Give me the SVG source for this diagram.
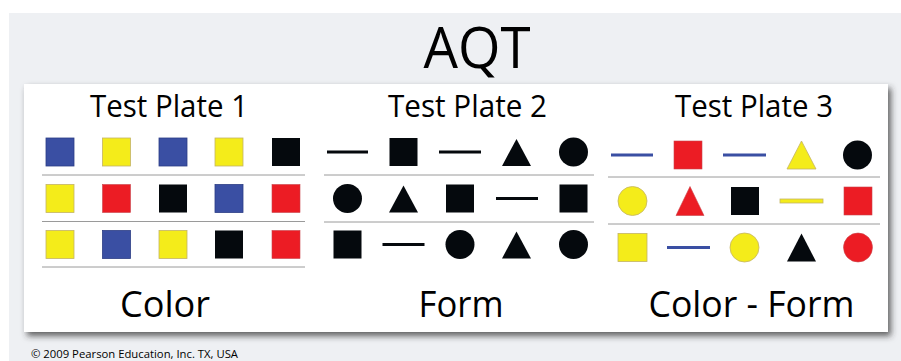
<svg xmlns="http://www.w3.org/2000/svg" width="901" height="361" viewBox="0 0 901 361">
<style>
text{font-family:"Open Sans","Liberation Sans",sans-serif;fill:#000}
.b{fill:#3a4fa3;stroke:#2c3d85;stroke-width:0.8}
.y{fill:#f4ec1a;stroke:#c4b466;stroke-width:0.8}
.r{fill:#ec1c24;stroke:#c9434a;stroke-width:0.6}
.k{fill:#05090d}
.d{stroke:#05090d;stroke-width:3}
.db{stroke:#3a4fa3;stroke-width:3}
.sep{stroke:#9a9a9a;stroke-width:1}
</style>
<defs>
<filter id="sh" x="-5%" y="-5%" width="115%" height="120%">
<feDropShadow dx="3" dy="4" stdDeviation="3" flood-color="#333" flood-opacity="0.75"/>
</filter>
</defs>
<rect x="0" y="0" width="901" height="361" fill="#ffffff"/>
<rect x="9" y="13" width="892" height="348" fill="#eef0f3"/>
<g id="title"><text x="477" y="68" font-size="56" text-anchor="middle" textLength="107" lengthAdjust="spacingAndGlyphs">AQT</text></g>
<rect id="panel" x="24" y="84" width="864" height="248" fill="#ffffff" filter="url(#sh)"/>

<g id="plate1">
<text x="90" y="117" font-size="31" textLength="158" lengthAdjust="spacingAndGlyphs">Test Plate 1</text>
<rect class="b" x="46" y="138" width="28" height="28"/>
<rect class="y" x="102.5" y="138" width="28" height="28"/>
<rect class="b" x="159" y="138" width="28" height="28"/>
<rect class="y" x="215" y="138" width="28" height="28"/>
<rect class="k" x="272" y="138" width="28" height="28"/>
<line class="sep" x1="42" y1="175" x2="305" y2="175"/>
<rect class="y" x="46" y="184.5" width="28" height="28"/>
<rect class="r" x="102.5" y="184.5" width="28" height="28"/>
<rect class="k" x="159" y="184.5" width="28" height="28"/>
<rect class="b" x="215" y="184.5" width="28" height="28"/>
<rect class="r" x="272" y="184.5" width="28" height="28"/>
<line class="sep" x1="42" y1="221.5" x2="305" y2="221.5"/>
<rect class="y" x="46" y="230.5" width="28" height="28"/>
<rect class="b" x="102.5" y="230.5" width="28" height="28"/>
<rect class="y" x="159" y="230.5" width="28" height="28"/>
<rect class="k" x="215" y="230.5" width="28" height="28"/>
<rect class="r" x="272" y="230.5" width="28" height="28"/>
<line class="sep" x1="42" y1="267" x2="305" y2="267"/>
<text x="165" y="317" font-size="37" text-anchor="middle" textLength="90" lengthAdjust="spacingAndGlyphs">Color</text>
</g>

<g id="plate2">
<text x="388" y="117" font-size="31" textLength="159" lengthAdjust="spacingAndGlyphs">Test Plate 2</text>
<line class="d" x1="327" y1="152" x2="368" y2="152"/>
<rect class="k" x="389.5" y="138" width="28" height="28"/>
<line class="d" x1="439" y1="152" x2="481" y2="152"/>
<polygon class="k" points="502,166 516.5,139 531,166"/>
<circle class="k" cx="573.5" cy="152" r="14.5"/>
<line class="sep" x1="324" y1="175" x2="594" y2="175"/>
<circle class="k" cx="347.5" cy="198.5" r="14.5"/>
<polygon class="k" points="389,212.5 403.5,185.5 418,212.5"/>
<rect class="k" x="446" y="184.5" width="28" height="28"/>
<line class="d" x1="496" y1="198.5" x2="538" y2="198.5"/>
<rect class="k" x="559.5" y="184.5" width="28" height="28"/>
<line class="sep" x1="324" y1="222" x2="594" y2="222"/>
<rect class="k" x="333.5" y="230.5" width="28" height="28"/>
<line class="d" x1="382.5" y1="244.5" x2="424.5" y2="244.5"/>
<circle class="k" cx="460" cy="244.5" r="14.5"/>
<polygon class="k" points="502,258.5 516.5,231.5 531,258.5"/>
<circle class="k" cx="573.5" cy="244.5" r="14.5"/>
<text x="461" y="317" font-size="37" text-anchor="middle" textLength="85" lengthAdjust="spacingAndGlyphs">Form</text>
</g>

<g id="plate3">
<text x="675" y="117" font-size="31" textLength="158" lengthAdjust="spacingAndGlyphs">Test Plate 3</text>
<line class="db" x1="611" y1="155" x2="653" y2="155"/>
<rect class="r" x="674" y="141" width="28" height="28"/>
<line class="db" x1="723" y1="155" x2="766" y2="155"/>
<polygon class="y" points="787,169 801.5,141 816,169"/>
<circle class="k" cx="857.5" cy="155" r="14.5"/>
<line class="sep" x1="608" y1="177" x2="880" y2="177"/>
<circle class="y" cx="632.5" cy="201" r="14.5"/>
<polygon class="r" points="676,215.5 690,186.5 704,215.5"/>
<rect class="k" x="731" y="187" width="28" height="28"/>
<rect class="y" x="780" y="199" width="43" height="4"/>
<rect class="r" x="844" y="187" width="28" height="28"/>
<line class="sep" x1="608" y1="224" x2="880" y2="224"/>
<rect class="y" x="618" y="233.5" width="29" height="28"/>
<line class="db" x1="667" y1="247.5" x2="710" y2="247.5"/>
<circle class="y" cx="744.5" cy="247.5" r="14.5"/>
<polygon class="k" points="787,261.5 801.5,233.5 816,261.5"/>
<circle class="r" cx="858" cy="247.5" r="14.5"/>
<text x="751.5" y="317" font-size="37" text-anchor="middle" textLength="206" lengthAdjust="spacingAndGlyphs">Color - Form</text>
</g>

<g id="copyright"><text x="31" y="358" font-size="11.5" fill="#222" textLength="207" lengthAdjust="spacingAndGlyphs">© 2009 Pearson Education, Inc. TX, USA</text></g>
</svg>
